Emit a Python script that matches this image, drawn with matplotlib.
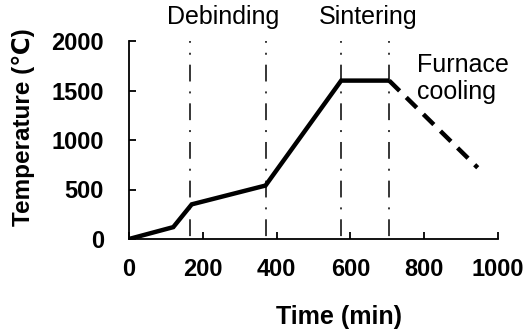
import matplotlib
matplotlib.use("Agg")
import matplotlib.pyplot as plt

# Data
time_solid = [0, 120, 170, 370, 575, 705]
temp_solid = [0, 120, 350, 540, 1600, 1600]
time_cool = [705, 945]
temp_cool = [1600, 720]
stage_lines = [165, 370, 575, 705]
xticks = [0, 200, 400, 600, 800, 1000]
yticks = [0, 500, 1000, 1500, 2000]

plt.rcParams['font.family'] = ['Liberation Sans', 'DejaVu Sans']

fig = plt.figure(figsize=(5.3, 3.35), dpi=100)
ax = fig.add_axes([129/530, 1-239/335, 369/530, 198/335])

for xv in stage_lines:
    ax.plot([xv, xv], [2000, 0], color='black', lw=1.1,
            linestyle=(9.8, (11, 6.5, 1.3, 6.5)), zorder=1)

ax.plot(time_solid, temp_solid, color='black', lw=3.2, solid_joinstyle='miter',
        solid_capstyle='butt', zorder=3)
ax.plot(time_cool, temp_cool, color='black', lw=3.2, linestyle=(0, (3.3, 2.1)),
        zorder=3)

ax.set_xlim(0, 1000)
ax.set_ylim(0, 2000)
ax.set_xticks(xticks)
ax.set_yticks(yticks)
ax.spines['top'].set_visible(False)
ax.spines['right'].set_visible(False)
for s in ['left', 'bottom']:
    ax.spines[s].set_linewidth(1.3)
ax.tick_params(direction='in', length=5, width=1.3, labelsize=17)
ax.tick_params(axis='y', pad=18)
ax.tick_params(axis='x', pad=14)
for lbl in ax.get_xticklabels() + ax.get_yticklabels():
    lbl.set_fontweight('bold')
ax.patch.set_alpha(0)

ax.text(255, 2245, 'Debinding', ha='center', va='center', fontsize=18,
        clip_on=False)
ax.text(648, 2245, 'Sintering', ha='center', va='center', fontsize=18,
        clip_on=False)
ax.text(780, 1620, 'Furnace\ncooling', ha='left', va='center', fontsize=18,
        linespacing=1.15, clip_on=False)

fig.text(339.5/530, 1-317/335, 'Time (min)', ha='center', va='center',
         fontsize=18, fontweight='bold')
fig.text(23/530, 1-127.5/335, 'Temperature (℃)', ha='center', va='center',
         fontsize=17.5, fontweight='bold', rotation=90)

fig.savefig('out.png', dpi=100)
